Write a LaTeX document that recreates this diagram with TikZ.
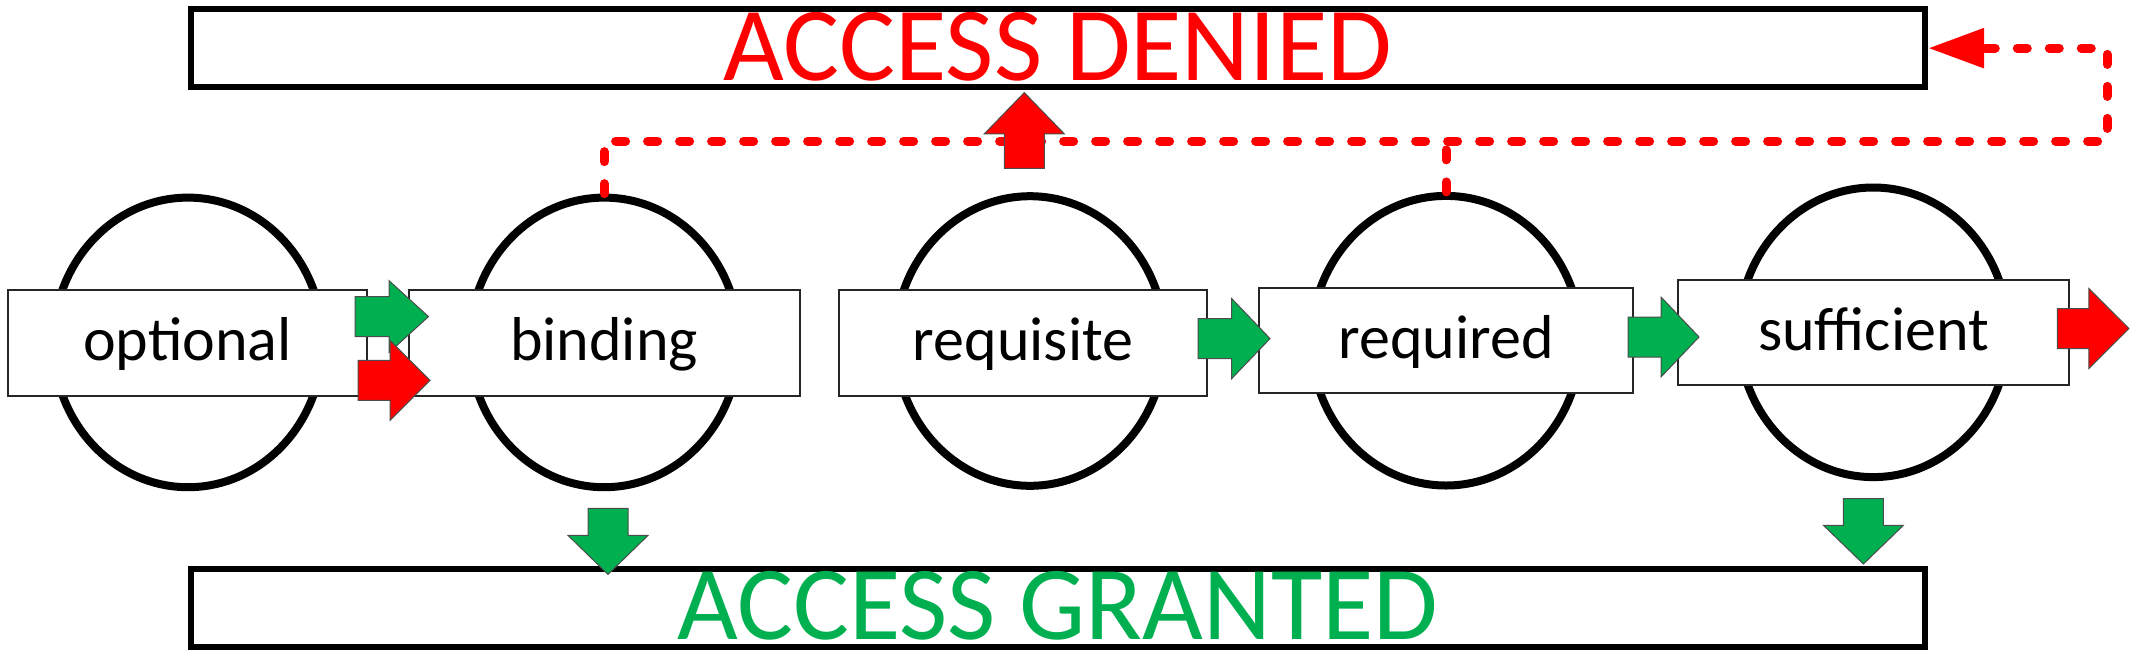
\documentclass[tikz,border=0pt]{standalone}
\usepackage{fontspec}
\setmainfont{Carlito}
\usetikzlibrary{shapes.geometric,arrows.meta}
\definecolor{offgreen}{HTML}{00B050}
\definecolor{offred}{HTML}{FF0000}
% #1 colour, #2 x, #3 y (tail centre), #4 rotation, #5 shaft length, #6 total length, #7 head half width
\newcommand\blockarrow[7]{%
  \filldraw[fill=#1, draw=black!70, line width=0.5pt, shift={(#2,#3)}, rotate=#4]
    (0,-20) -- (#5,-20) -- (#5,-#7) -- (#6,0) -- (#5,#7) -- (#5,20) -- (0,20) -- cycle;}
\tikzset{
  ring/.style={ellipse, draw=black, line width=4pt, minimum width=134.7pt,
    minimum height=144.8pt, inner sep=0pt},
  stage/.style={rectangle, draw=black!85, fill=white, line width=1pt,
    minimum height=52.9pt, inner sep=0pt, font=\fontsize{31pt}{36pt}\selectfont,
    text height=24pt, text depth=6pt},
  outcome/.style={rectangle, draw=black, line width=3pt, minimum width=867.15pt,
    minimum height=39.15pt, inner sep=0pt, font=\fontsize{52.5pt}{60pt}\selectfont,
    text height=35pt, text depth=3pt},
  dashline/.style={draw=offred, line width=4.5pt, line cap=round, line join=round,
    dash pattern=on 5pt off 11pt},
}
\begin{document}
\begin{tikzpicture}[x=0.5pt, y=-0.5pt]
\useasboundingbox (0,0) rectangle (2141,660);
% rings
\node[ring] (e1) at (188,342.4) {};
\node[ring] (e2) at (604.2,342.4) {};
\node[ring] (e3) at (1030,341) {};
\node[ring] (e4) at (1446,340.7) {};
\node[ring] (e5) at (1873.3,332.3) {};
% stage boxes
\node[stage, minimum width=179.85pt] (optional) at (187.6,342.6) {optional};
\node[stage, minimum width=195.5pt] (binding) at (604,342.6) {binding};
\node[stage, minimum width=183.9pt] (requisite) at (1023,342.6) {requisite};
\node[stage, minimum width=187.35pt] (required) at (1446,340.5) {required};
\node[stage, minimum width=195.2pt, minimum height=52.7pt] (sufficient) at (1873.5,332.3) {sufficient};
% outcome boxes
\node[outcome, text=offred] (denied) at (1058,48.15) {ACCESS DENIED};
\node[outcome, text=offgreen] (granted) at (1058,607.8) {ACCESS GRANTED};
% dashed failure path
\coordinate (dr) at (2107,141);
\coordinate (dt) at (2107,48.15);
\draw[dashline, -{Triangle[length=28pt,width=19pt]}] (e2.north) |- (dr) -- (dt) -- (denied.east);
\draw[dashline] (e4.north) -- (e4.north |- dr);
% block arrows
\blockarrow{offgreen}{355}{316.6}{0}{34}{73.5}{36}
\blockarrow{offred}{358}{380.3}{0}{32}{72}{40}
\blockarrow{offgreen}{1198}{338.6}{0}{33.7}{72}{40}
\blockarrow{offgreen}{1628}{337}{0}{33}{71}{40}
\blockarrow{offred}{2057.4}{328.5}{0}{31.4}{71.6}{40}
\blockarrow{offgreen}{608}{508.4}{-90}{27}{66}{40}
\blockarrow{offgreen}{1863.4}{498.7}{-90}{26.6}{65.3}{40}
\blockarrow{offred}{1024.3}{168.4}{90}{34.6}{75.8}{40}
\end{tikzpicture}
\end{document}
